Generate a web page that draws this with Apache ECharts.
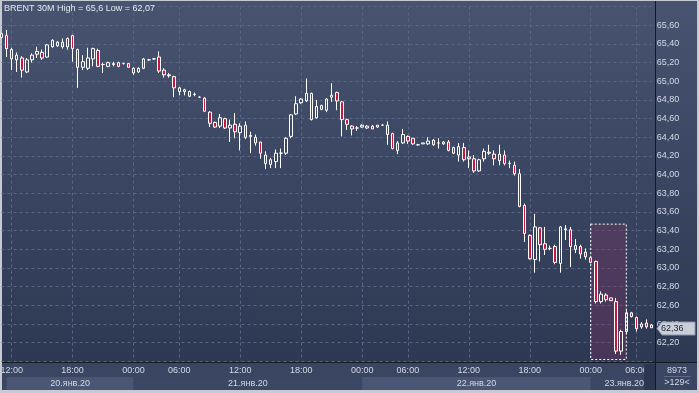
<!DOCTYPE html>
<html>
<head>
<meta charset="utf-8">
<script src="https://cdn.jsdelivr.net/npm/echarts@6/dist/echarts.min.js"></script>
<style>
html,body{margin:0;padding:0;background:#c5cad3;}
#frame{position:absolute;left:0;top:0;width:699px;height:393px;background:#c5cad3;overflow:hidden;}
#plotbg{position:absolute;left:2px;top:1px;width:695px;height:361px;background:linear-gradient(to bottom,#47536f 0%,#2d3853 100%);}
#axisbg{position:absolute;left:2px;top:363px;width:695px;height:27px;background:#3a4561;}
#hline{position:absolute;left:2px;top:362px;width:695px;height:1px;background:#141923;}
#vline{position:absolute;left:655px;top:1px;width:1px;height:389px;background:#141923;}
#c{position:absolute;left:0;top:0;width:699px;height:393px;}
</style>
</head>
<body>
<div id="frame">
  <div id="plotbg"></div>
  <div id="axisbg"></div>
  <div id="hline"></div>
  <div id="vline"></div>
  <div id="c"></div>
</div>
<script>
// ---- data ----
const times = [
 "2020-01-20 11:00","2020-01-20 11:30","2020-01-20 12:00","2020-01-20 12:30","2020-01-20 13:00","2020-01-20 13:30","2020-01-20 14:00","2020-01-20 14:30","2020-01-20 15:00","2020-01-20 15:30","2020-01-20 16:00","2020-01-20 16:30","2020-01-20 17:00","2020-01-20 17:30","2020-01-20 18:00","2020-01-20 18:30","2020-01-20 19:00","2020-01-20 19:30","2020-01-20 20:00","2020-01-20 20:30","2020-01-20 21:00","2020-01-20 21:30","2020-01-20 22:00","2020-01-20 22:30","2020-01-20 23:00","2020-01-20 23:30",
 "2020-01-21 00:00","2020-01-21 00:30","2020-01-21 01:00","2020-01-21 03:00","2020-01-21 03:30","2020-01-21 04:00","2020-01-21 04:30","2020-01-21 05:00","2020-01-21 05:30","2020-01-21 06:00","2020-01-21 06:30","2020-01-21 07:00","2020-01-21 07:30","2020-01-21 08:00","2020-01-21 08:30","2020-01-21 09:00","2020-01-21 09:30","2020-01-21 10:00","2020-01-21 10:30","2020-01-21 11:00","2020-01-21 11:30","2020-01-21 12:00","2020-01-21 12:30","2020-01-21 13:00","2020-01-21 13:30","2020-01-21 14:00","2020-01-21 14:30","2020-01-21 15:00","2020-01-21 15:30","2020-01-21 16:00","2020-01-21 16:30","2020-01-21 17:00","2020-01-21 17:30","2020-01-21 18:00","2020-01-21 18:30","2020-01-21 19:00","2020-01-21 19:30","2020-01-21 20:00","2020-01-21 20:30","2020-01-21 21:00","2020-01-21 21:30","2020-01-21 22:00","2020-01-21 22:30","2020-01-21 23:00","2020-01-21 23:30",
 "2020-01-22 00:00","2020-01-22 00:30","2020-01-22 01:00","2020-01-22 03:00","2020-01-22 03:30","2020-01-22 04:00","2020-01-22 04:30","2020-01-22 05:00","2020-01-22 05:30","2020-01-22 06:00","2020-01-22 06:30","2020-01-22 07:00","2020-01-22 07:30","2020-01-22 08:00","2020-01-22 08:30","2020-01-22 09:00","2020-01-22 09:30","2020-01-22 10:00","2020-01-22 10:30","2020-01-22 11:00","2020-01-22 11:30","2020-01-22 12:00","2020-01-22 12:30","2020-01-22 13:00","2020-01-22 13:30","2020-01-22 14:00","2020-01-22 14:30","2020-01-22 15:00","2020-01-22 15:30","2020-01-22 16:00","2020-01-22 16:30","2020-01-22 17:00","2020-01-22 17:30","2020-01-22 18:00","2020-01-22 18:30","2020-01-22 19:00","2020-01-22 19:30","2020-01-22 20:00","2020-01-22 20:30","2020-01-22 21:00","2020-01-22 21:30","2020-01-22 22:00","2020-01-22 22:30","2020-01-22 23:00","2020-01-22 23:30",
 "2020-01-23 00:00","2020-01-23 00:30","2020-01-23 01:00","2020-01-23 03:00","2020-01-23 03:30","2020-01-23 04:00","2020-01-23 04:30","2020-01-23 05:00","2020-01-23 05:30","2020-01-23 06:00","2020-01-23 06:30","2020-01-23 07:00","2020-01-23 07:30"
];
const opens = [65.51,65.49,65.34,65.23,65.25,65.10,65.23,65.29,65.31,65.26,65.37,65.42,65.37,65.37,65.49,65.34,65.15,65.14,65.24,65.33,65.18,65.16,65.18,65.20,65.19,65.19,
 65.14,65.10,65.14,65.23,65.24,65.26,65.12,65.07,65.05,64.93,64.89,64.89,64.86,64.83,64.82,64.67,64.56,64.52,64.60,64.50,64.54,64.45,64.53,64.42,64.40,64.35,64.21,64.11,64.14,64.23,64.23,64.41,64.65,64.77,64.79,64.87,64.61,64.74,64.69,64.83,64.88,64.78,64.59,64.52,64.50,
 64.51,64.50,64.52,64.51,64.53,64.53,64.44,64.26,64.34,64.41,64.39,64.32,64.33,64.33,64.37,64.34,64.33,64.35,64.29,64.21,64.29,64.17,64.17,64.04,64.17,64.23,64.22,64.15,64.21,64.12,64.10,64.01,63.67,63.35,63.09,63.43,63.26,63.21,63.23,63.05,63.41,63.41,63.24,63.23,63.17,
 63.11,63.07,62.64,62.71,62.68,62.64,62.11,62.32,62.52,62.47,62.37,62.41,62.39];
const highs = [65.52,65.55,65.36,65.31,65.27,65.25,65.30,65.37,65.34,65.40,65.45,65.43,65.46,65.47,65.50,65.35,65.28,65.36,65.36,65.35,65.20,65.21,65.21,65.21,65.20,65.19,
 65.15,65.15,65.25,65.24,65.25,65.32,65.14,65.09,65.06,64.94,64.92,64.90,64.88,64.84,64.83,64.68,64.57,64.65,64.61,64.59,64.66,64.55,64.57,64.46,64.43,64.35,64.25,64.18,64.27,64.28,64.40,64.65,64.84,64.82,65.03,64.88,64.80,64.75,64.82,64.98,64.89,64.79,64.60,64.53,64.52,
 64.54,64.53,64.53,64.53,64.54,64.57,64.45,64.36,64.49,64.42,64.39,64.33,64.34,64.40,64.38,64.39,64.36,64.37,64.30,64.34,64.34,64.26,64.21,64.17,64.28,64.32,64.26,64.32,64.26,64.15,64.14,64.06,63.69,63.36,63.58,63.44,63.44,63.24,63.25,63.45,63.46,63.44,63.31,63.25,63.21,
 63.13,63.08,62.75,62.73,62.68,62.68,62.34,62.56,62.53,62.48,62.42,62.45,62.40];
const lows = [65.46,65.26,65.12,65.10,65.04,65.09,65.20,65.25,65.23,65.25,65.36,65.37,65.35,65.34,65.21,64.93,65.12,65.12,65.16,65.15,65.09,65.15,65.16,65.15,65.18,65.15,
 65.07,65.09,65.13,65.22,65.23,65.09,65.04,65.04,64.83,64.85,64.85,64.83,64.84,64.83,64.67,64.51,64.50,64.50,64.49,64.35,64.39,64.26,64.38,64.23,64.31,64.17,64.06,64.07,64.07,64.07,64.21,64.39,64.64,64.76,64.78,64.58,64.60,64.69,64.67,64.78,64.69,64.41,64.48,64.42,64.47,
 64.50,64.49,64.49,64.50,64.53,64.32,64.27,64.22,64.33,64.33,64.32,64.31,64.33,64.32,64.31,64.28,64.32,64.25,64.22,64.14,64.14,64.07,64.02,64.03,64.14,64.21,64.10,64.10,64.10,64.07,63.99,63.65,63.28,63.09,62.95,63.07,63.14,63.19,63.04,62.95,63.30,63.01,63.16,63.10,63.09,
 63.05,62.62,62.62,62.64,62.65,62.08,62.07,62.29,62.47,62.32,62.35,62.35,62.36];
const closes = [65.47,65.35,65.24,65.28,65.12,65.23,65.28,65.32,65.25,65.39,65.44,65.38,65.42,65.46,65.35,65.15,65.21,65.25,65.35,65.16,65.18,65.20,65.19,65.16,65.19,65.15,
 65.09,65.14,65.24,65.23,65.24,65.11,65.07,65.06,64.93,64.89,64.91,64.84,64.86,64.83,64.68,64.55,64.51,64.61,64.50,64.53,64.46,64.52,64.40,64.41,64.34,64.23,64.12,64.16,64.23,64.23,64.39,64.64,64.76,64.81,64.87,64.59,64.73,64.70,64.81,64.85,64.79,64.59,64.54,64.49,64.50,
 64.53,64.52,64.49,64.53,64.53,64.43,64.28,64.34,64.43,64.36,64.33,64.32,64.34,64.36,64.32,64.34,64.35,64.26,64.23,64.30,64.16,64.19,64.04,64.16,64.25,64.24,64.17,64.22,64.12,64.12,64.01,63.66,63.37,63.10,63.44,63.25,63.20,63.21,63.06,63.44,63.42,63.23,63.20,63.15,63.12,
 63.06,62.64,62.72,62.66,62.65,62.11,62.32,62.52,62.48,62.35,62.40,62.37,62.36];
const dayLabels = ["20.янв.20","21.янв.20","22.янв.20","23.янв.20"];
const dayStartIndex = [1, 26, 71, 116];
const priceTicks = {min: 62.0, max: 65.8, step: 0.2};
const highlight = {from: 116, to: 123, top: 63.47, bottom: 62.02};
const titleText = "BRENT 30M High = 65,6 Low = 62,07";
const infoTop = "8973";
const infoBottom = ">129<";

// ---- chart ----
const FONT = '"Liberation Sans", Arial, sans-serif';
const LABEL = '#d2d9e6';
const GRIDC = '#5a6683';
const isMajor = v => /(00|06|12|18):00$/.test(v);
const fmt = v => v.toFixed(2).replace('.', ',');
const ohlc = times.map((t, i) => [opens[i], closes[i], lows[i], highs[i]]);

const chart = echarts.init(document.getElementById('c'), null, {renderer: 'canvas', width: 699, height: 393});
chart.setOption({
  animation: false,
  backgroundColor: 'transparent',
  grid: {left: 1.5, right: 47.3, top: 6.64, bottom: 31.64, outerBoundsMode: 'none', containLabel: false},
  xAxis: {
    type: 'category', data: times, boundaryGap: false,
    axisLine: {show: false}, axisTick: {show: false},
    axisLabel: {interval: (i, v) => isMajor(v), formatter: v => v.slice(-5), color: LABEL,
      fontSize: 9, fontFamily: FONT, margin: 5, hideOverlap: false},
    splitLine: {show: true, interval: (i, v) => isMajor(v), lineStyle: {color: GRIDC, type: [3, 3], width: 1}}
  },
  yAxis: {
    type: 'value', position: 'right', min: priceTicks.min, max: priceTicks.max, interval: priceTicks.step,
    axisLine: {show: false}, axisTick: {show: false},
    axisLabel: {
      formatter: v => (v > priceTicks.max - priceTicks.step / 2 || v < priceTicks.min + priceTicks.step / 2) ? '' : fmt(v),
      color: LABEL, fontSize: 9, fontFamily: FONT, margin: 5},
    splitLine: {show: true, lineStyle: {color: GRIDC, type: [3, 3], width: 1}}
  },
  series: [{
    type: 'candlestick', data: ohlc, barWidth: 3, clip: false,
    itemStyle: {color: 'rgba(0,0,0,0)', color0: '#c8173c', borderColor: '#ffffff', borderColor0: '#ffffff', borderWidth: 1},
    markArea: {
      silent: true,
      itemStyle: {color: 'rgba(125,50,95,0.35)', borderColor: '#ffffff', borderWidth: 1, borderType: [2, 2]},
      data: [[{xAxis: times[highlight.from], yAxis: highlight.top}, {xAxis: times[highlight.to], yAxis: highlight.bottom}]]
    }
  }]
});

// ---- overlays positioned through the chart's own scales ----
const px = i => chart.convertToPixel({xAxisIndex: 0}, i);
const py = v => chart.convertToPixel({yAxisIndex: 0}, v);
const bandTop = 377, bandBottom = 390;
const lastEdge = (px(times.length - 2) + px(times.length - 3)) / 2;
const graphics = [];
dayLabels.forEach((lab, d) => {
  const x0 = px(dayStartIndex[d]);
  const x1 = d + 1 < dayStartIndex.length ? px(dayStartIndex[d + 1]) : lastEdge;
  graphics.push({type: 'rect', z: 50, shape: {x: x0, y: bandTop, width: x1 - x0, height: bandBottom - bandTop},
    style: {fill: d % 2 === 0 ? '#4a5673' : '#3c4764'}});
  const last = d === dayLabels.length - 1;
  graphics.push({type: 'text', z: 51, x: last ? x1 : (x0 + x1) / 2, y: 383.5,
    style: {text: lab, fill: LABEL, font: '9px ' + FONT, align: last ? 'right' : 'center', verticalAlign: 'middle'}});
});
// dark strip right of the last band
graphics.push({type: 'rect', z: 52, shape: {x: lastEdge, y: 364, width: 655 - lastEdge, height: 26}, style: {fill: '#2c3650'}});
// title
graphics.push({type: 'text', z: 60, x: 4, y: 8.5, style: {text: titleText, fill: '#e3e8f1', font: '9px ' + FONT, verticalAlign: 'middle'}});
// right info box
graphics.push({type: 'text', z: 60, x: 677, y: 370.5, style: {text: infoTop, fill: LABEL, font: '9px ' + FONT, align: 'center', verticalAlign: 'middle'}});
graphics.push({type: 'line', z: 60, shape: {x1: 664, y1: 376.5, x2: 691, y2: 376.5}, style: {stroke: '#5d6986', lineWidth: 1}});
graphics.push({type: 'text', z: 60, x: 677, y: 383, style: {text: infoBottom, fill: LABEL, font: '9px ' + FONT, align: 'center', verticalAlign: 'middle'}});
// current price label
const lastClose = closes[closes.length - 1];
const yc = Math.round(py(lastClose)) + 0.5;
graphics.push({type: 'polygon', z: 70, shape: {points: [[657, yc], [662, yc - 6.5], [695, yc - 6.5], [695, yc + 6.5], [662, yc + 6.5]]},
  style: {fill: '#c9ced8', stroke: '#8c95a8', lineWidth: 1}});
graphics.push({type: 'text', z: 71, x: 661, y: yc, style: {text: fmt(lastClose), fill: '#1f2535', font: '9px ' + FONT, verticalAlign: 'middle'}});

chart.setOption({graphic: graphics});
</script>
</body>
</html>
